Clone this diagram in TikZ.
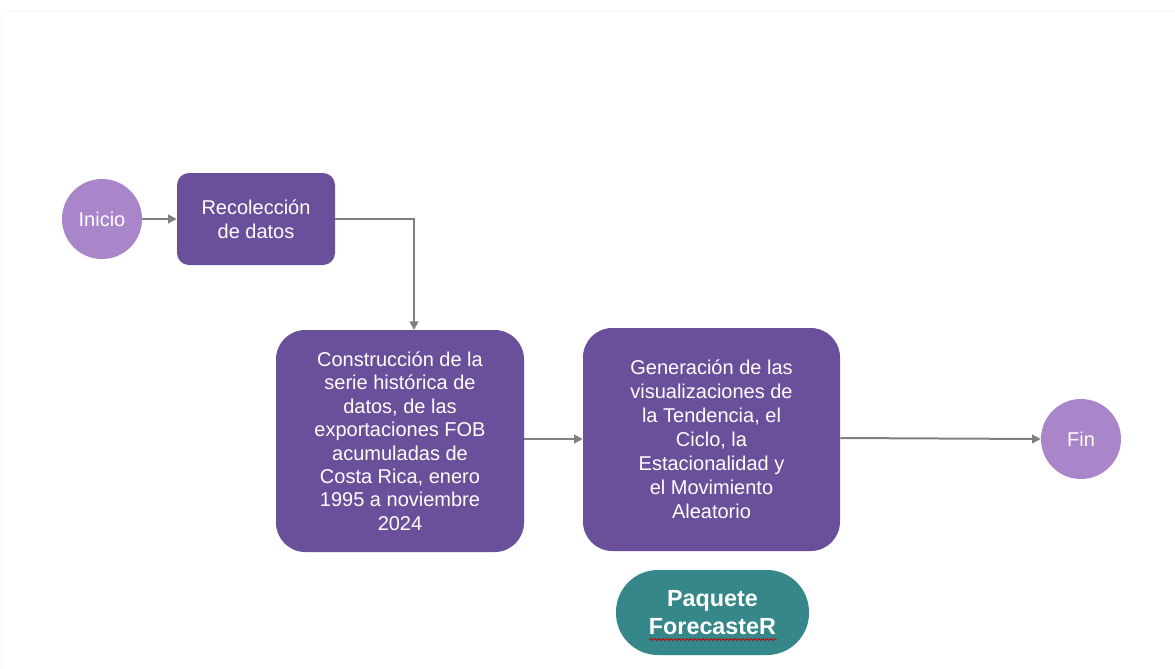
\documentclass[tikz,border=0pt]{standalone}
\usepackage{fontspec}
\setmainfont{Liberation Sans}
\usetikzlibrary{arrows.meta,decorations.pathmorphing,calc}
\definecolor{dpurple}{HTML}{6A4F9B}
\definecolor{lpurple}{HTML}{A985C9}
\definecolor{teal2}{HTML}{358789}
\definecolor{arrowgray}{HTML}{808080}
\begin{document}
\begin{tikzpicture}[x=0.75pt,y=-0.75pt,
  txt/.style={text=white,align=center,font=\fontsize{15}{17.6}\selectfont,inner sep=0pt},
  circ/.style={circle,fill=lpurple,minimum size=60pt,txt},
  procbox/.style={fill=dpurple,txt},
  conn/.style={draw=arrowgray,line width=1.5pt,-{Triangle[length=6.5pt,width=6.5pt]}}]
\useasboundingbox (0,0) rectangle (1175,668);
\fill[white] (0,0) rectangle (1175,668);
\draw[black!2,line width=1pt] (6,11) -- (1175,11);
\draw[black!2,line width=0.8pt] (2,20) -- (2,668);

\node[circ] (inicio) at (102,219) {Inicio};
\node[procbox,rounded corners=9pt,minimum width=118.5pt,minimum height=69pt] (recol) at (256,219) {Recolección\\de datos};
\node[procbox,rounded corners=22pt,minimum width=186pt,minimum height=166.5pt] (constr) at (400,441) {Construcción de la\\serie histórica de\\datos, de las\\exportaciones FOB\\acumuladas de\\Costa Rica, enero\\1995 a noviembre\\2024};
\node[procbox,rounded corners=22pt,minimum width=192.75pt,minimum height=167.25pt,font=\fontsize{15}{18}\selectfont] (gener) at (711.5,439.5) {Generación de las\\visualizaciones de\\la Tendencia, el\\Ciclo, la\\Estacionalidad y\\el Movimiento\\Aleatorio};
\node[circ] (fin) at (1081,439) {Fin};
\node[fill=teal2,rounded corners=31.5pt,minimum width=144.75pt,minimum height=63.75pt,text=white,align=center,inner sep=0pt,font=\fontsize{17.5}{21}\selectfont\bfseries] (pkg) at (712.5,612.5) {Paquete\\ForecasteR};
\draw[red!80!black,line width=0.6pt,decorate,decoration={snake,amplitude=0.7pt,segment length=3pt}] ($(pkg.center)+(-63,27)$) -- ($(pkg.center)+(64,27)$);

\coordinate (bend) at (414,219);
\coordinate (ctop) at (414,330);
\draw[conn] (inicio.east) -- (recol.west);
\draw[conn] (recol.east) -- (bend) -- (ctop);
\draw[conn] (constr.east |- 0,439) -- (gener.west |- 0,439);
\draw[conn] (gener.east |- 0,438) -- (fin.west);
\end{tikzpicture}
\end{document}
